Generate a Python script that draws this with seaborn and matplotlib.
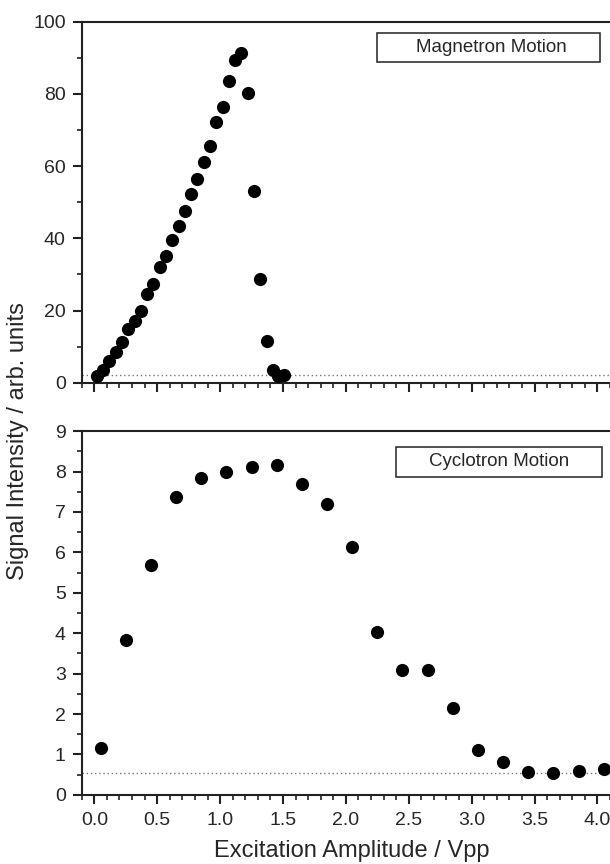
import numpy as np
import pandas as pd
import matplotlib
matplotlib.use("Agg")
import matplotlib.pyplot as plt
from matplotlib.ticker import MultipleLocator, FormatStrFormatter
from matplotlib.patches import Rectangle
import seaborn as sns

sns.set_style("ticks")
plt.rcParams['font.family'] = ['Liberation Sans', 'DejaVu Sans']

# Magnetron motion (top panel)
mag_x = [0.02, 0.07, 0.12, 0.17, 0.22, 0.27, 0.32, 0.37, 0.42, 0.47,
         0.52, 0.57, 0.62, 0.67, 0.72, 0.77, 0.82, 0.87, 0.92, 0.97,
         1.02, 1.07, 1.12, 1.17, 1.22, 1.27, 1.32, 1.37, 1.42, 1.46, 1.51]
mag_y = [1.9, 3.4, 6.1, 8.5, 11.3, 14.9, 17.1, 19.9, 24.5, 27.3,
         32.0, 35.2, 39.5, 43.5, 47.6, 52.3, 56.5, 61.2, 65.5, 72.2,
         76.3, 83.5, 89.5, 91.2, 80.3, 53.2, 28.7, 11.6, 3.6, 1.8, 2.2]
mag_base = 2.2

# Cyclotron motion (bottom panel)
cyc_x = [0.05, 0.25, 0.45, 0.65, 0.85, 1.05, 1.25, 1.45, 1.65, 1.85, 2.05,
         2.25, 2.45, 2.65, 2.85, 3.05, 3.25, 3.45, 3.65, 3.85, 4.05]
cyc_y = [1.15, 3.84, 5.70, 7.36, 7.85, 7.98, 8.12, 8.15, 7.70, 7.20, 6.14,
         4.02, 3.09, 3.09, 2.14, 1.10, 0.82, 0.57, 0.54, 0.60, 0.64]
cyc_base = 0.55

df_mag = pd.DataFrame({'x': mag_x, 'y': mag_y})
df_cyc = pd.DataFrame({'x': cyc_x, 'y': cyc_y})

fig = plt.figure(figsize=(6.1, 8.64), dpi=100)
ax1 = fig.add_axes([0.134, 0.557, 0.866, 0.418])
ax2 = fig.add_axes([0.134, 0.080, 0.866, 0.421])

for ax, d, base in [(ax1, df_mag, mag_base), (ax2, df_cyc, cyc_base)]:
    ax.axhline(base, color='#777777', lw=1.0, ls=(0, (1, 2)), zorder=1)
    sns.scatterplot(data=d, x='x', y='y', ax=ax, color='black', s=90,
                    edgecolor='black', linewidth=0, zorder=3, clip_on=False)
    ax.set_xlim(-0.1, 4.1)
    ax.xaxis.set_major_locator(MultipleLocator(0.5))
    ax.xaxis.set_minor_locator(MultipleLocator(0.1))
    for s in ['left', 'bottom', 'top']:
        ax.spines[s].set_linewidth(1.5)
        ax.spines[s].set_color('#222222')
    ax.spines['right'].set_visible(False)
    ax.tick_params(which='major', length=6.5, width=1.5, labelsize=14,
                   color='#222222', pad=5)
    ax.tick_params(which='minor', length=3.6, width=1.2, color='#222222')
    ax.set_xlabel('')
    ax.set_ylabel('')

ax1.set_ylim(0, 100)
ax1.yaxis.set_major_locator(MultipleLocator(20))
ax1.yaxis.set_minor_locator(MultipleLocator(10))
ax1.tick_params(axis='x', which='both', labelbottom=False)

ax2.set_ylim(0, 9)
ax2.yaxis.set_major_locator(MultipleLocator(1))
ax2.yaxis.set_minor_locator(MultipleLocator(0.5))
ax2.xaxis.set_major_formatter(FormatStrFormatter('%.1f'))
ax2.tick_params(axis='x', which='major', pad=6)

# label boxes
ax1.add_patch(Rectangle((2.25, 88.8), 1.77, 8.1, fill=False, ec='#222222', lw=1.1, zorder=4))
ax1.text(3.16, 92.9, 'Magnetron Motion', ha='center', va='center', fontsize=13.5)
ax2.add_patch(Rectangle((2.40, 7.87), 1.64, 0.74, fill=False, ec='#222222', lw=1.1, zorder=4))
ax2.text(3.22, 8.24, 'Cyclotron Motion', ha='center', va='center', fontsize=13.5)

fig.text(0.03, 0.49, 'Signal Intensity / arb. units', rotation=90,
         ha='center', va='center', fontsize=17)
fig.text(0.577, 0.015, 'Excitation Amplitude / Vpp', ha='center', va='center', fontsize=17)

fig.savefig('out.png', dpi=100)
